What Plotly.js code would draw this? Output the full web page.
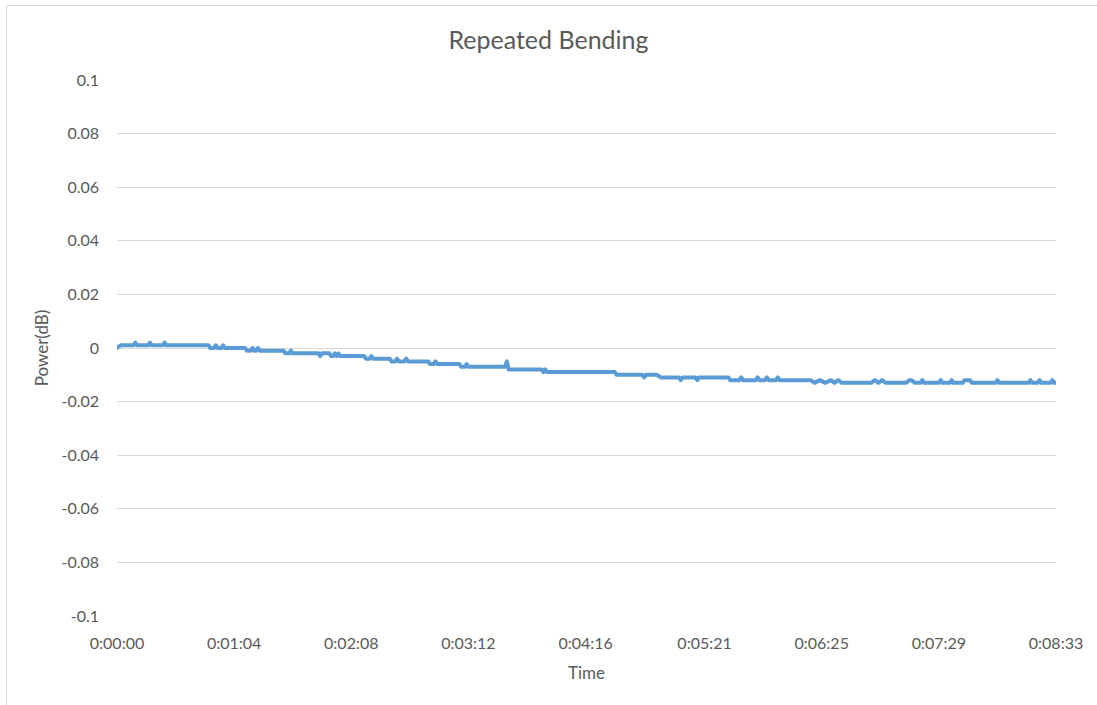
<!DOCTYPE html>
<html>
<head>
<meta charset="utf-8">
<script src="https://cdn.plot.ly/plotly-3.0.1.min.js"></script>
<style>
  html, body { margin: 0; padding: 0; background: #ffffff; }
  #chart { width: 1097px; height: 705px; }
  #chart .scatterlayer path.js-line { stroke-linejoin: round !important; stroke-linecap: round !important; }
</style>
</head>
<body>
<div id="chart"></div>
<script>
// Time in seconds from start (breakpoints)
const timeSeconds = [
  0, 2, 9, 10, 11, 17, 18, 19, 25, 26, 27,
  50, 51, 53, 54, 55, 57, 58, 59,
  70, 71, 73, 74, 75, 76, 77, 78,
  91, 92, 94, 95, 96,
  110, 111, 112, 116, 117, 118, 119, 120, 121, 122,
  135, 136, 138, 139, 140,
  149, 150, 152, 153, 154, 157, 158, 159,
  170, 171, 173, 174, 175,
  187, 188, 190, 191, 192,
  212, 213, 214,
  232, 233, 234, 235,
  272, 273,
  287, 288, 289, 295, 297,
  307, 308, 309, 316, 317, 318,
  334, 335, 340, 341, 342,
  349, 350, 351, 354, 355, 356, 360, 361, 362,
  379, 381, 384, 387, 390, 392, 394, 396,
  412, 414, 416, 418, 420,
  431, 433, 434, 436, 439, 440, 441, 449, 450, 451, 455, 456, 457,
  462, 463, 466, 467, 480, 481, 482, 498, 499, 500, 503, 504, 505,
  510, 511, 512, 513
];
const powerDb = [
  0, 0.001, 0.001, 0.002, 0.001, 0.001, 0.002, 0.001, 0.001, 0.002, 0.001,
  0.001, 0, 0, 0.001, 0, 0, 0.001, 0,
  0, -0.001, -0.001, 0, -0.001, -0.001, 0, -0.001,
  -0.001, -0.002, -0.002, -0.001, -0.002,
  -0.002, -0.003, -0.002, -0.002, -0.003, -0.003, -0.002, -0.003, -0.002, -0.003,
  -0.003, -0.004, -0.004, -0.003, -0.004,
  -0.004, -0.005, -0.005, -0.004, -0.005, -0.005, -0.004, -0.005,
  -0.005, -0.006, -0.006, -0.005, -0.006,
  -0.006, -0.007, -0.007, -0.006, -0.007,
  -0.007, -0.005, -0.008,
  -0.008, -0.009, -0.008, -0.009,
  -0.009, -0.010,
  -0.010, -0.011, -0.010, -0.010, -0.011,
  -0.011, -0.012, -0.011, -0.011, -0.012, -0.011,
  -0.011, -0.012, -0.012, -0.011, -0.012,
  -0.012, -0.011, -0.012, -0.012, -0.011, -0.012, -0.012, -0.011, -0.012,
  -0.012, -0.013, -0.012, -0.013, -0.012, -0.013, -0.012, -0.013,
  -0.013, -0.012, -0.013, -0.012, -0.013,
  -0.013, -0.012, -0.012, -0.013, -0.013, -0.012, -0.013, -0.013, -0.012, -0.013, -0.013, -0.012, -0.013,
  -0.013, -0.012, -0.012, -0.013, -0.013, -0.012, -0.013, -0.013, -0.012, -0.013, -0.013, -0.012, -0.013,
  -0.013, -0.012, -0.013, -0.013
];

const xTickVals = [0, 64, 128, 192, 256, 321, 385, 449, 513];
const xTickText = ['0:00:00', '0:01:04', '0:02:08', '0:03:12', '0:04:16', '0:05:21', '0:06:25', '0:07:29', '0:08:33'];
const yTickVals = [0.1, 0.08, 0.06, 0.04, 0.02, 0, -0.02, -0.04, -0.06, -0.08, -0.1];
const yTickText = ['0.1', '0.08', '0.06', '0.04', '0.02', '0', '-0.02', '-0.04', '-0.06', '-0.08', '-0.1'];

const FONT = 'Lato, "Open Sans", sans-serif';
const TXT = '#595959';

const trace = {
  x: timeSeconds,
  y: powerDb,
  type: 'scatter',
  mode: 'lines',
  line: { color: '#5B9BD5', width: 4, shape: 'linear' },
  hoverinfo: 'x+y'
};

const L = 117, R = 1056, T = 80, B = 616;
const W = 1097, H = 705;
const pw = R - L, ph = B - T;
function px2paperX(px) { return (px - L) / pw; }
function px2paperY(py) { return (B - py) / ph; }

const layout = {
  width: W,
  height: H,
  margin: { l: L, r: W - R, t: T, b: H - B, pad: 0 },
  paper_bgcolor: '#ffffff',
  plot_bgcolor: '#ffffff',
  showlegend: false,
  font: { family: FONT, color: TXT, size: 15 },
  title: {
    text: 'Repeated Bending',
    font: { family: FONT, size: 25, color: TXT },
    x: 0.5, xanchor: 'center',
    y: 1 - 40 / H, yanchor: 'middle'
  },
  xaxis: {
    range: [0, 513],
    tickvals: xTickVals,
    ticktext: xTickText,
    showgrid: false,
    zeroline: false,
    showline: false,
    ticks: '',
    ticklabelstandoff: 16,
    tickfont: { family: FONT, size: 16, color: TXT },
    title: { text: 'Time', font: { family: FONT, size: 17, color: TXT }, standoff: 16 },
    fixedrange: true
  },
  yaxis: {
    range: [-0.1, 0.1],
    tickvals: yTickVals,
    ticktext: yTickText,
    showgrid: true,
    gridcolor: '#d9d9d9',
    gridwidth: 1,
    zeroline: false,
    showline: false,
    ticks: '',
    ticklabelstandoff: 17,
    tickfont: { family: FONT, size: 16, color: TXT },
    title: { text: 'Power(dB)', font: { family: FONT, size: 17, color: TXT }, standoff: 8 },
    fixedrange: true
  },
  shapes: [
    {
      type: 'rect', xref: 'paper', yref: 'paper', layer: 'below',
      x0: px2paperX(6.5), x1: px2paperX(1400),
      y0: px2paperY(1000), y1: px2paperY(5.5),
      line: { color: '#d9d9d9', width: 1 },
      fillcolor: 'rgba(0,0,0,0)'
    }
  ]
};

Plotly.newPlot('chart', [trace], layout, { displayModeBar: false, staticPlot: true });
</script>
</body>
</html>
